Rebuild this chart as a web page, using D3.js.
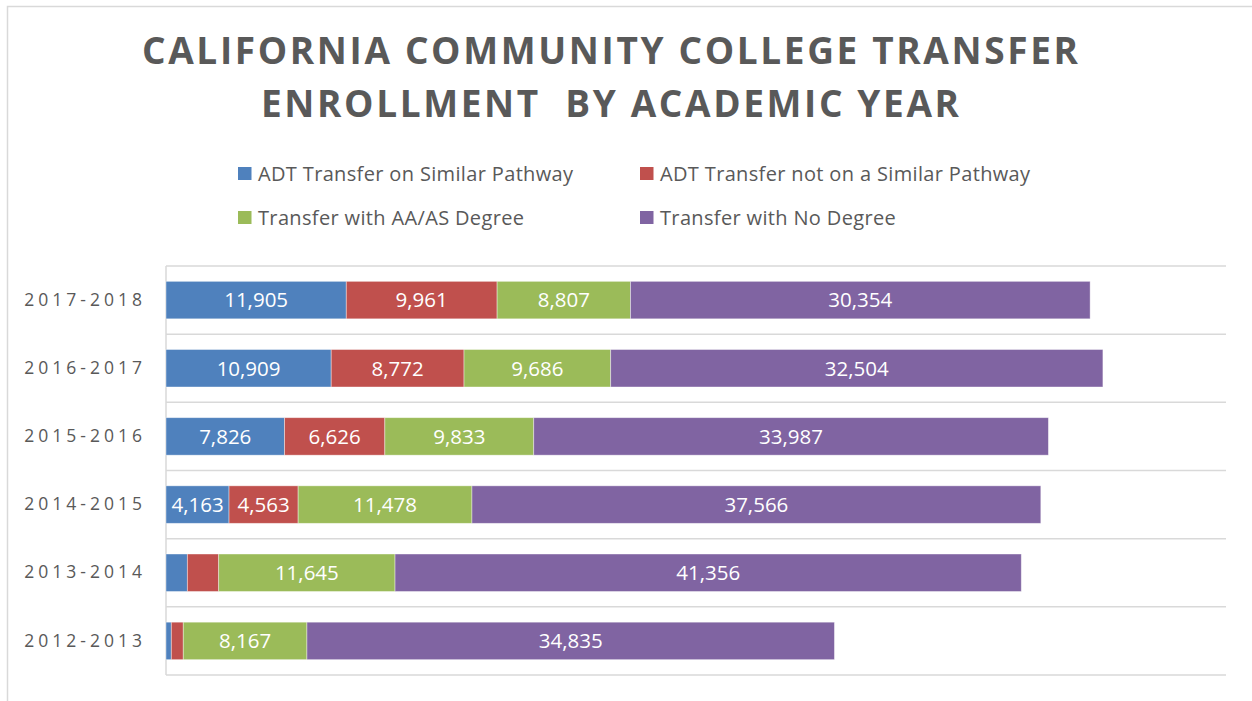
<!DOCTYPE html>
<html>
<head>
<meta charset="utf-8">
<script src="https://cdn.jsdelivr.net/npm/d3@7"></script>
<style>
  html, body { margin: 0; padding: 0; background: #fff; }
  svg { display: block; }
</style>
</head>
<body>
<svg id="chart" width="1252" height="701"></svg>
<script>
// ---- data ----
const categories = ["2017-2018", "2016-2017", "2015-2016", "2014-2015", "2013-2014", "2012-2013"];
const seriesNames = ["ADT Transfer on Similar Pathway", "ADT Transfer not on a Similar Pathway", "Transfer with AA/AS Degree", "Transfer with No Degree"];
const adtSimilar    = [11905, 10909, 7826, 4163, 1410, 350];
const adtNotSimilar = [9961, 8772, 6626, 4563, 2070, 790];
const aaasDegree    = [8807, 9686, 9833, 11478, 11645, 8167];
const noDegree      = [30354, 32504, 33987, 37566, 41356, 34835];
const colors = ["#4F81BD", "#C0504D", "#9BBB59", "#8064A2"];
const titleLines = ["CALIFORNIA COMMUNITY COLLEGE TRANSFER", "ENROLLMENT  BY ACADEMIC YEAR"];

const seriesValues = [adtSimilar, adtNotSimilar, aaasDegree, noDegree];
const keys = ["s0", "s1", "s2", "s3"];
const rows = categories.map((c, i) => {
  const r = { cat: c };
  keys.forEach((k, j) => r[k] = seriesValues[j][i]);
  return r;
});

const svg = d3.select("#chart");
const font = "'Open Sans', sans-serif";
const gray = "#595959";

// outer chart border
svg.append("rect").attr("x", 7.5).attr("y", 6.5).attr("width", 1300).attr("height", 800)
  .attr("fill", "#fff").attr("stroke", "#d9d9d9").attr("stroke-width", 1.5);

// title
const titleG = svg.append("g");
const titleY = [64, 117];
const titleW = [936, 698];
titleLines.forEach((t, i) => {
  titleG.append("text")
    .attr("x", 610).attr("y", titleY[i])
    .attr("text-anchor", "middle")
    .attr("font-family", font).attr("font-weight", 700).attr("font-size", 37)
    .attr("fill", gray)
    .attr("textLength", titleW[i]).attr("lengthAdjust", "spacing")
    .style("white-space", "pre")
    .text(t);
});

// legend
const legendPos = [[238, 173.5], [640, 173.5], [238, 217.5], [640, 217.5]];
seriesNames.forEach((n, i) => {
  const g = svg.append("g").attr("transform", `translate(${legendPos[i][0]},${legendPos[i][1]})`);
  g.append("rect").attr("x", 0).attr("y", -6.5).attr("width", 13.5).attr("height", 13).attr("fill", colors[i]);
  g.append("text").attr("x", 20).attr("y", 0).attr("dy", "0.35em")
    .attr("font-family", font).attr("font-size", 20).attr("letter-spacing", "0.35px")
    .attr("fill", gray).text(n);
});

// scales
const margin = { left: 166, right: 1226, top: 266, bottom: 675 };
const x = d3.scaleLinear().domain([0, 70000]).range([margin.left, margin.right]);
const y = d3.scaleBand().domain(categories).range([margin.top, margin.bottom])
  .paddingInner(0.45).paddingOuter(0.225);
const step = y.step();

// category gridlines
const gridYs = categories.map(c => y(c) - step * 0.225).concat([margin.bottom]);
svg.append("g").selectAll("line").data(gridYs).join("line")
  .attr("x1", margin.left).attr("x2", margin.right)
  .attr("y1", d => d).attr("y2", d => d)
  .attr("stroke", "#d9d9d9").attr("stroke-width", 1.5);

// left axis line
svg.append("line").attr("x1", margin.left).attr("x2", margin.left)
  .attr("y1", margin.top).attr("y2", margin.bottom)
  .attr("stroke", "#d9d9d9").attr("stroke-width", 1.5);

// category labels
const yAxis = d3.axisLeft(y).tickSize(0).tickPadding(20);
const ay = svg.append("g").attr("transform", `translate(${margin.left},0)`).call(yAxis);
ay.select(".domain").remove();
ay.selectAll("text").attr("font-family", font).attr("font-size", 17.5).attr("fill", gray)
  .attr("letter-spacing", "4px");

// stacked bars
const stack = d3.stack().keys(keys)(rows);
const layers = svg.append("g").selectAll("g").data(stack).join("g")
  .attr("fill", (d, i) => colors[i]);
layers.selectAll("rect").data(d => d.map(v => ({ v, key: d.key }))).join("rect")
  .attr("x", d => x(d.v[0]))
  .attr("y", d => y(d.v.data.cat))
  .attr("width", d => x(d.v[1]) - x(d.v[0]))
  .attr("height", y.bandwidth())
  .attr("stroke", "#ffffff").attr("stroke-opacity", 0.5).attr("stroke-width", 0.8);

// value labels
const fmt = d3.format(",");
layers.selectAll("text").data(d => d.map(v => ({ v, key: d.key }))).join("text")
  .attr("x", d => (x(d.v[0]) + x(d.v[1])) / 2)
  .attr("y", d => y(d.v.data.cat) + y.bandwidth() / 2)
  .attr("dy", "0.36em")
  .attr("text-anchor", "middle")
  .attr("font-family", font).attr("font-size", 20.5).attr("fill", "#fff")
  .text(d => (x(d.v[1]) - x(d.v[0]) > 55 ? fmt(d.v[1] - d.v[0]) : ""));
</script>
</body>
</html>
